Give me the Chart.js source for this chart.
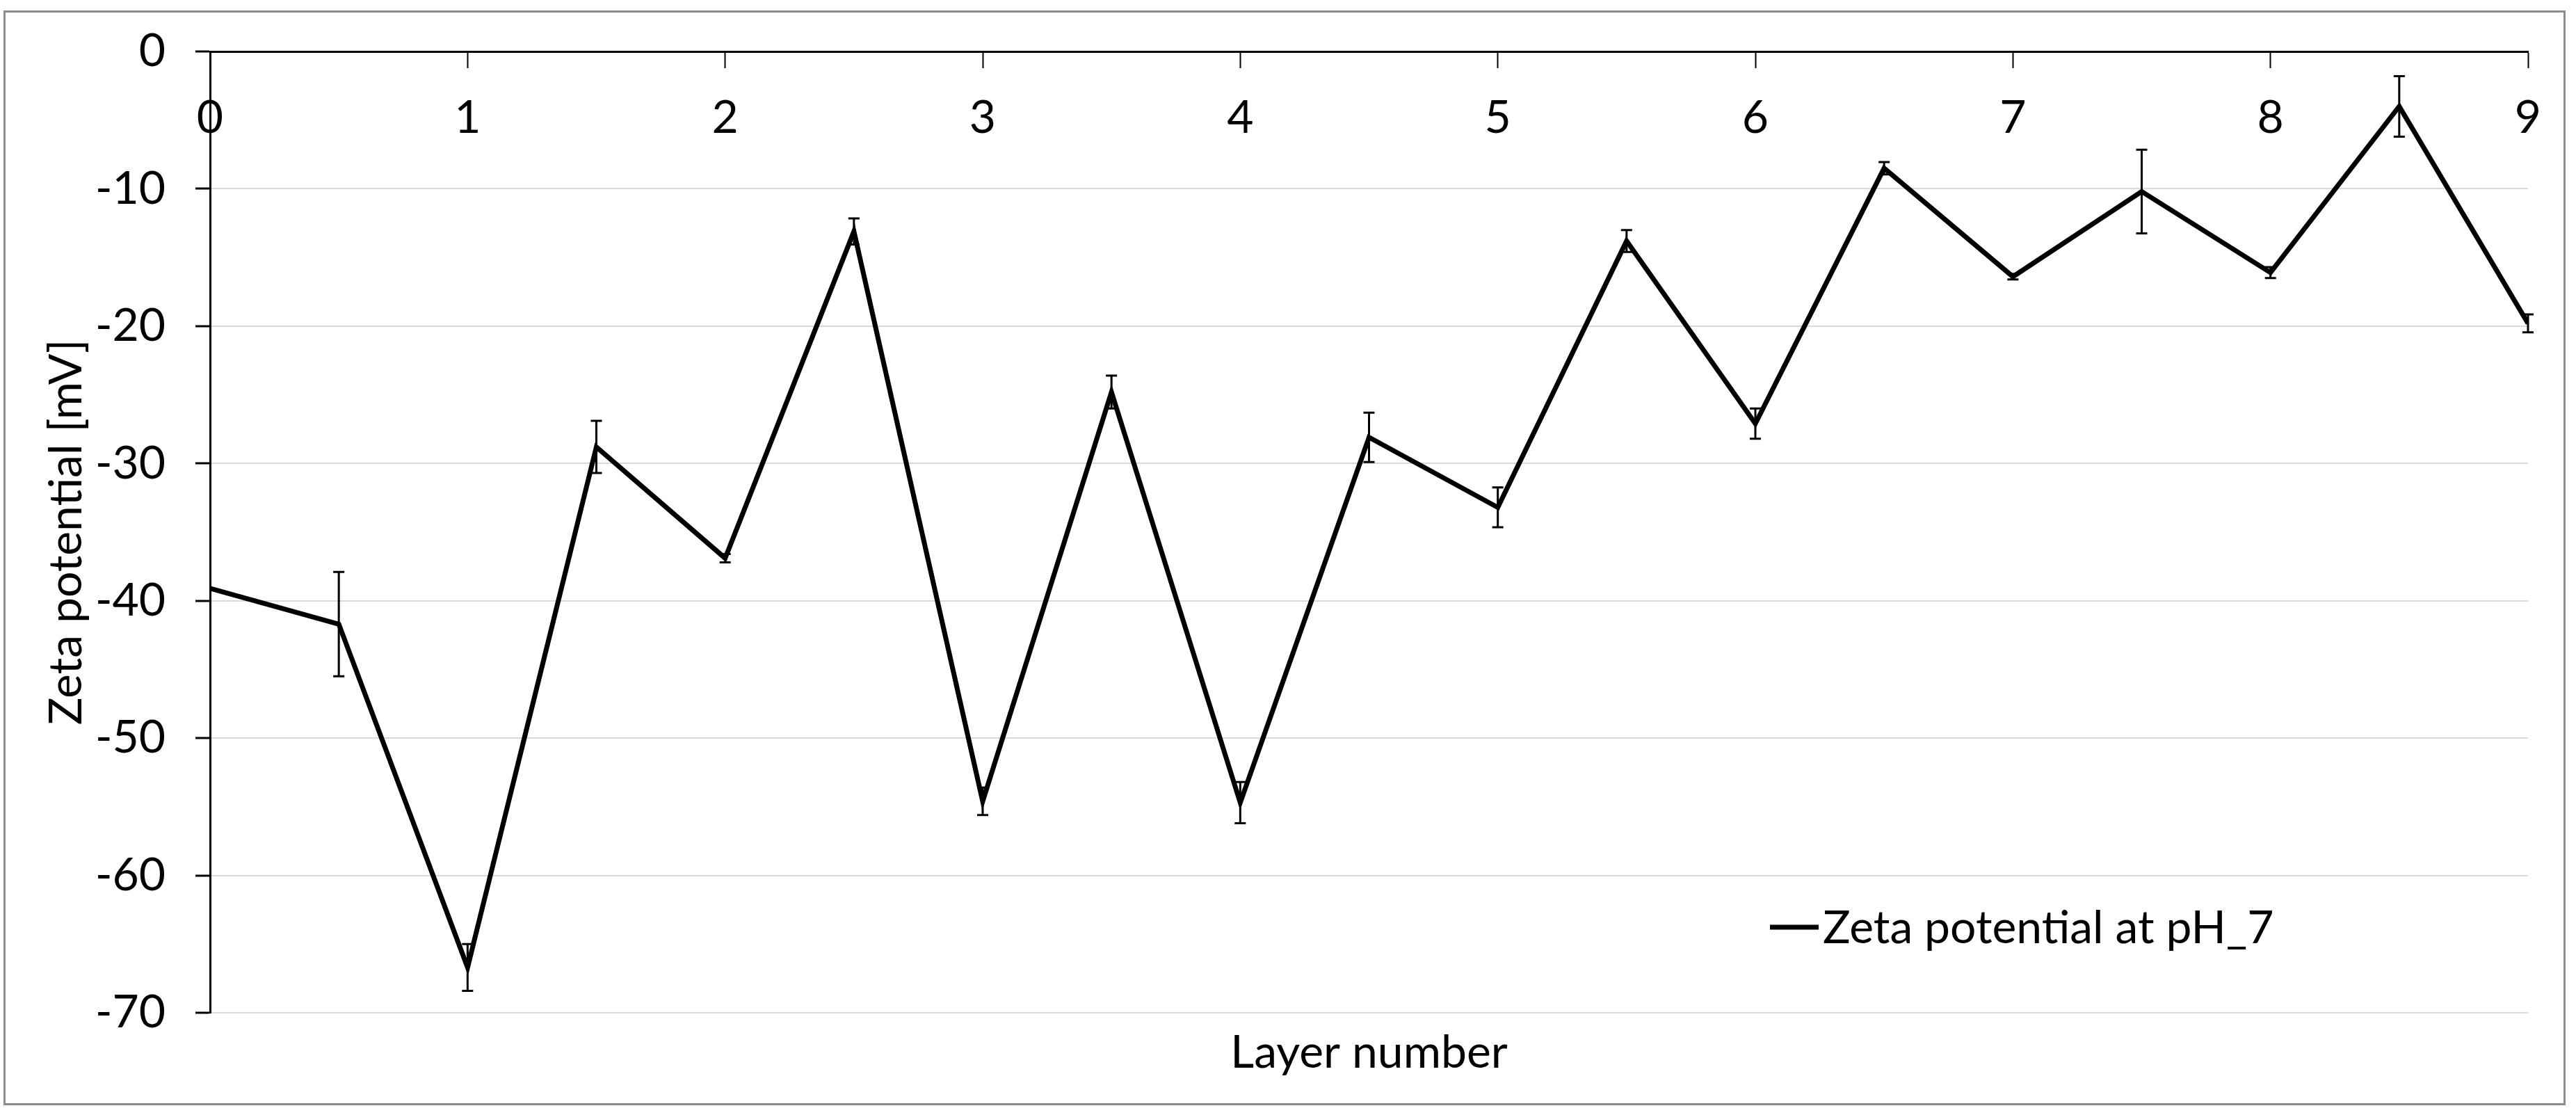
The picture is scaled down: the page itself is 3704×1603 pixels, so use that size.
<!DOCTYPE html>
<html>
<head>
<meta charset="utf-8">
<title>Zeta potential</title>
<script src="https://cdn.jsdelivr.net/npm/chart.js@4.4.0/dist/chart.umd.min.js"></script>
<style>
  html, body { margin: 0; padding: 0; background: #fff; }
  #wrap { position: relative; width: 3704px; height: 1603px; }
  #frame { position: absolute; left: 5px; top: 15px; width: 3684px; height: 1574px;
           border: 3px solid #8c8c8c; box-sizing: border-box; pointer-events: none; }
  canvas { position: absolute; left: 0; top: 0; }
</style>
</head>
<body>
<div id="wrap">
  <canvas id="zetaChart" width="3704" height="1603"></canvas>
  <div id="frame"></div>
</div>
<script>
// layer numbers (half steps = after each deposited layer)
const layers = [0, 0.5, 1, 1.5, 2, 2.5, 3, 3.5, 4, 4.5, 5, 5.5, 6, 6.5, 7, 7.5, 8, 8.5, 9];
const zeta = [-39.1, -41.7, -66.7, -28.8, -36.9, -13.1, -54.6, -24.8, -54.7, -28.1,
              -33.2, -13.8, -27.1, -8.5, -16.4, -10.2, -16.1, -4.0, -19.8];
const zetaErr = [0, 3.8, 1.7, 1.9, 0.3, 0.95, 1.0, 1.2, 1.5, 1.8,
                 1.45, 0.8, 1.1, 0.45, 0.2, 3.05, 0.4, 2.2, 0.65];
const seriesLabel = 'Zeta potential at pH_7';
const xTitle = 'Layer number';
const yTitle = 'Zeta potential [mV]';

const FONT = "Lato, 'DejaVu Sans Condensed', sans-serif";
const FS = 66;

// vertical error bars with caps
const errorBars = {
    id: 'errorBars',
    afterDatasetsDraw(chart) {
        const xs = chart.scales.x, ys = chart.scales.y, ctx = chart.ctx;
        ctx.save();
        ctx.strokeStyle = '#000';
        ctx.lineWidth = 3;
        layers.forEach((l, i) => {
            const e = zetaErr[i];
            if (!e) return;
            const px = xs.getPixelForValue(l);
            const top = ys.getPixelForValue(zeta[i] + e);
            const bot = ys.getPixelForValue(zeta[i] - e);
            ctx.beginPath();
            ctx.moveTo(px, top); ctx.lineTo(px, bot);
            ctx.moveTo(px - 8, top); ctx.lineTo(px + 8, top);
            ctx.moveTo(px - 8, bot); ctx.lineTo(px + 8, bot);
            ctx.stroke();
        });
        ctx.restore();
    }
};

// legend sitting inside the plot, lower right
const innerLegend = {
    id: 'innerLegend',
    afterDraw(chart) {
        const ctx = chart.ctx;
        const ds = chart.data.datasets[0];
        const x = 2545, y = 1333;
        ctx.save();
        ctx.strokeStyle = ds.borderColor;
        ctx.lineWidth = 7;
        ctx.beginPath();
        ctx.moveTo(x, y); ctx.lineTo(x + 70, y);
        ctx.stroke();
        ctx.fillStyle = '#000';
        ctx.font = FS + 'px ' + FONT;
        ctx.textBaseline = 'middle';
        ctx.textAlign = 'left';
        ctx.fillText(ds.label, x + 76, y + 2);
        ctx.restore();
    }
};

const ctx = document.getElementById('zetaChart').getContext('2d');
new Chart(ctx, {
    type: 'scatter',
    data: {
        datasets: [{
            label: seriesLabel,
            data: layers.map((l, i) => ({ x: l, y: zeta[i] })),
            showLine: true,
            borderColor: '#000',
            backgroundColor: '#000',
            borderWidth: 7,
            pointRadius: 0,
            tension: 0
        }]
    },
    options: {
        responsive: false,
        animation: false,
        layout: { padding: { top: 74, right: 69, bottom: 0, left: 0 } },
        plugins: { legend: { display: false }, tooltip: { enabled: false } },
        scales: {
            x: {
                type: 'linear',
                position: { y: 0 },
                min: 0, max: 9,
                border: { color: '#000', width: 3 },
                grid: { drawOnChartArea: false, tickLength: 22, tickColor: '#000', tickWidth: 2 },
                ticks: { stepSize: 1, padding: 34, color: '#000', font: { family: FONT, size: FS } }
            },
            xLab: {
                type: 'linear',
                position: 'bottom',
                min: 0, max: 9,
                border: { display: false },
                grid: { display: false },
                ticks: { display: false },
                title: { display: true, text: xTitle, color: '#000',
                         font: { family: FONT, size: FS }, padding: { top: 0, bottom: 50 } },
                afterFit(s) { s.height = 147; }
            },
            y: {
                min: -70, max: 0,
                border: { color: '#000', width: 3 },
                grid: { color: '#d9d9d9', lineWidth: 2, tickLength: 21, tickColor: '#000', tickWidth: 3 },
                ticks: { stepSize: 10, padding: 43, color: '#000', font: { family: FONT, size: FS } },
                title: { display: true, text: yTitle, color: '#000',
                         font: { family: FONT, size: FS }, padding: { top: 56, bottom: 0 } },
                afterFit(s) { s.width = 302; s.paddingTop = 0; s.paddingBottom = 0; }
            }
        }
    },
    plugins: [errorBars, innerLegend]
});
</script>
</body>
</html>
